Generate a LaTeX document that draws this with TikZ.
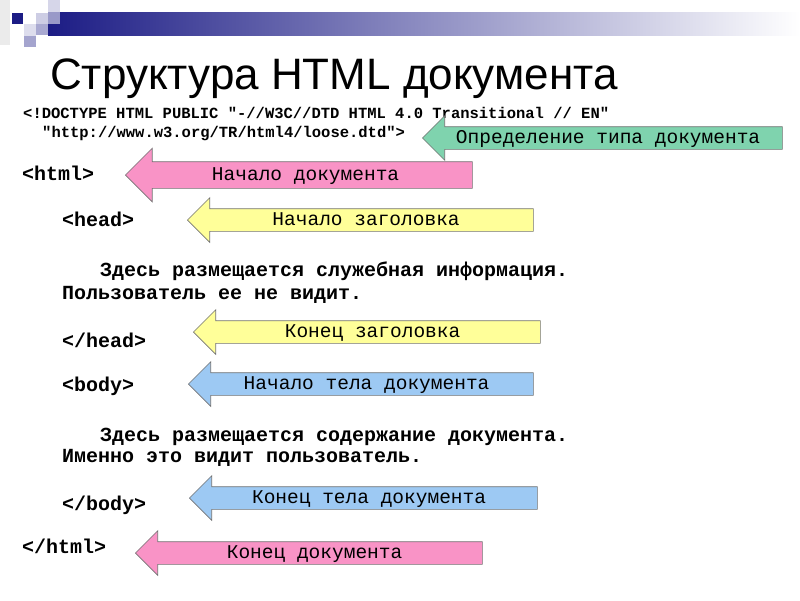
\documentclass[tikz,border=0pt]{standalone}
\usepackage{fontspec}
\setmainfont{Liberation Sans}
\newfontfamily\codefont{Liberation Mono}
\usetikzlibrary{shapes.arrows}
\definecolor{barblue}{HTML}{1C1C85}
\definecolor{arrowgreen}{HTML}{7FD3AE}
\definecolor{arrowpink}{HTML}{F993C6}
\definecolor{arrowyellow}{HTML}{FFFF99}
\definecolor{arrowblue}{HTML}{9DC9F3}

\begin{document}
\begin{tikzpicture}[x=1pt,y=-1pt,
    code/.style={anchor=base west,inner sep=0pt,font=\codefont\bfseries\fontsize{20}{24}\selectfont},
    doctype/.style={code,font=\codefont\bfseries\fontsize{15.5}{18}\selectfont},
    callout/.style={single arrow,shape border rotate=180,draw=black!55,line width=0.6pt,
                    single arrow head extend=11pt,single arrow tip angle=90,
                    minimum width=44pt,inner xsep=4pt,inner ysep=2pt,
                    text height=14pt,text depth=4pt,anchor=tip,
                    font=\codefont\fontsize{19.5}{20}\selectfont},
    sq/.style={draw=none}]
  \useasboundingbox (0,0) rectangle (800,600);
  % banner
  \fill[black!8] (0,0) rectangle (10,45);
  \shade[left color=barblue,right color=white] (48,12) rectangle (800,35);
  \fill[sq,barblue] (12,13) rectangle (23,24);
  \fill[sq,barblue!22] (36,13) rectangle (48,24);
  \fill[sq,barblue!18] (48,0) rectangle (60,12);
  \fill[sq,barblue!45] (48,12) rectangle (60,24);
  \fill[sq,barblue!15] (24,24) rectangle (36,36);
  \fill[sq,barblue!38] (36,24) rectangle (48,35);
  \fill[sq,barblue!40] (24,36) rectangle (36,47);
  % title
  \node[anchor=base west,inner sep=0pt,font=\fontsize{44}{48}\selectfont] (title) at (50,89) {Структура HTML документа};
  % code
  \node[doctype] (dt1) at (23,118) {<!DOCTYPE HTML PUBLIC "-//W3C//DTD HTML 4.0 Transitional // EN"};
  \node[doctype] (dt2) at (42,137) {"http://www.w3.org/TR/html4/loose.dtd">};
  \node[code] (html) at (22,180) {<html>};
  \node[code] (head) at (62,226) {<head>};
  \node[code] (info1) at (100,276) {Здесь размещается служебная информация.};
  \node[code] (info2) at (62,299) {Пользователь ее не видит.};
  \node[code] (headend) at (62,347) {</head>};
  \node[code] (body) at (62,391) {<body>};
  \node[code] (text1) at (100,441) {Здесь размещается содержание документа.};
  \node[code] (text2) at (62,462) {Именно это видит пользователь.};
  \node[code] (bodyend) at (62,510) {</body>};
  \node[code] (htmlend) at (22,553) {</html>};
  % arrows
  \node[callout,fill=arrowgreen,minimum height=360pt] (dtarrow) at (422,138) {Определение типа документа};
  \node[callout,fill=arrowpink,minimum height=347pt,minimum width=53pt,
        single arrow head extend=13.5pt,inner ysep=4pt] (htmlarrow) at (125,175) {Начало документа};
  \node[callout,fill=arrowyellow,minimum height=346pt] (headarrow) at (187,220) {Начало заголовка};
  \node[callout,fill=arrowyellow,minimum height=347pt] (headendarrow) at (193,332) {Конец заголовка};
  \node[callout,fill=arrowblue,minimum height=345pt] (bodyarrow) at (188,384) {Начало тела документа};
  \node[callout,fill=arrowblue,minimum height=348pt] (bodyendarrow) at (189,498) {Конец тела документа};
  \node[callout,fill=arrowpink,minimum height=347pt] (htmlendarrow) at (135,553) {Конец документа};
\end{tikzpicture}
\end{document}
